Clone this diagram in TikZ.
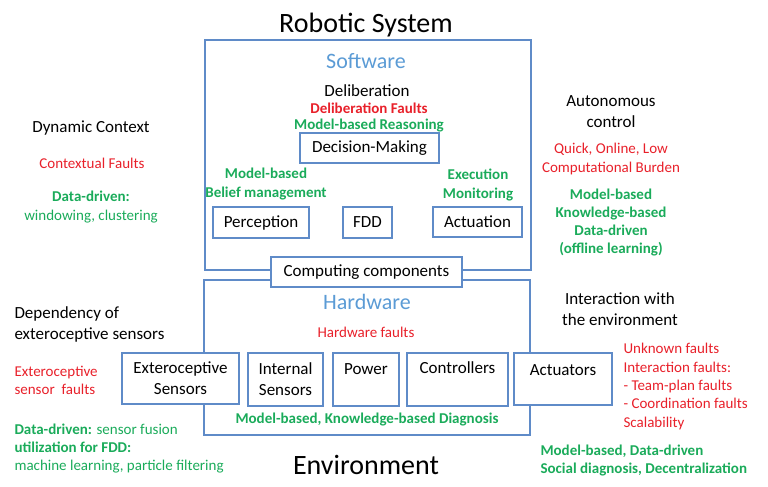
\documentclass[tikz,border=0pt]{standalone}
\usepackage{fontspec}
\setmainfont{Carlito}
\definecolor{loido}{HTML}{E8202A}
\definecolor{xanh}{HTML}{1AAB5A}
\definecolor{vien}{HTML}{5F8BC8}
\definecolor{tieudexanh}{HTML}{5B9BD5}
\begin{document}
\begin{tikzpicture}[x=1pt,y=-1pt,
	khung/.style={draw=vien,line width=1.2pt,fill=white,inner sep=0pt},
	chu/.style={font=\fontsize{17}{21}\selectfont,align=center},
	loi/.style={text=loido,font=\fontsize{15}{18.3}\selectfont,align=center},
	ppx/.style={text=xanh,font=\fontsize{15}{18.3}\selectfont,align=center}]
	\useasboundingbox (0,0) rectangle (768,487);
	%Tieu de
	\node[font=\fontsize{28}{30}\selectfont] (robot) at (366,25) {Robotic System};
	\node[font=\fontsize{28}{30}\selectfont] (moitruong) at (366,465) {Environment};
	%Khung lon
	\node[khung,fill=none,minimum width=326,minimum height=230] (phanmem) at (368,155) {};
	\node[khung,fill=none,minimum width=326,minimum height=155] (phancung) at (367,357.5) {};
	%Software
	\node[text=tieudexanh,font=\fontsize{22}{24}\selectfont] (sw) at (366,61) {Software};
	\node[chu] (delib) at (367,91) {Deliberation};
	\node[loi,font=\bfseries\fontsize{15}{18}\selectfont] (delibloi) at (369,108) {Deliberation Faults};
	\node[ppx,font=\bfseries\fontsize{15}{18}\selectfont] (reason) at (369,126) {Model-based Reasoning};
	\node[khung,chu,minimum width=139,minimum height=30] (dm) at (369.5,148) {Decision-Making};
	\node[ppx,font=\bfseries\fontsize{15}{18.3}\selectfont] (belief) at (266,184) {Model-based\\Belief management};
	\node[ppx,font=\bfseries\fontsize{15}{18.3}\selectfont] (exec) at (478,185) {Execution\\Monitoring};
	\node[khung,chu,minimum width=96,minimum height=31] (per) at (261,222.5) {Perception};
	\node[khung,chu,minimum width=49,minimum height=31] (fdd) at (367.5,222.5) {FDD};
	\node[khung,chu,minimum width=89,minimum height=30] (act) at (477.5,222) {Actuation};
	%Computing
	\node[khung,chu,minimum width=191,minimum height=30] (comp) at (366.5,272) {Computing components};
	%Hardware
	\node[text=tieudexanh,font=\fontsize{22}{24}\selectfont] (hw) at (367,302) {Hardware};
	\node[loi] (hwloi) at (366,332) {Hardware faults};
	\node[khung,chu,minimum width=117,minimum height=51] (ext) at (180.5,378.5) {Exteroceptive\\Sensors};
	\node[khung,chu,minimum width=75,minimum height=53] (int) at (285.5,379.5) {Internal\\Sensors};
	\node[khung,minimum width=66,minimum height=53] (pow) at (366,379.5) {};
	\node[chu] (powt) at (366,369) {Power};
	\node[khung,minimum width=101,minimum height=53] (ctrl) at (457.5,379.5) {};
	\node[chu] (ctrlt) at (457.5,368) {Controllers};
	\node[khung,minimum width=98,minimum height=52] (actu) at (563,379) {};
	\node[chu] (actut) at (563,370) {Actuators};
	\node[ppx,font=\bfseries\fontsize{15}{18}\selectfont] (diag) at (367,420) {Model-based, Knowledge-based Diagnosis};
	%Ben trai
	\node[chu] (dyn) at (91,128) {Dynamic Context};
	\node[loi] (ctxloi) at (92,163) {Contextual Faults};
	\node[ppx] (win) at (91,207) {\textbf{Data-driven:}\\windowing, clustering};
	\node[chu,align=left,anchor=west] (dep) at (11,324.5) {Dependency of\\exteroceptive sensors};
	\node[loi,align=left,anchor=west] (extloi) at (11,380.5) {Exteroceptive\\sensor~~faults};
	\node[ppx,align=left,anchor=west] (fusion) at (11,448.5) {\textbf{Data-driven:} sensor fusion\\\textbf{utilization for FDD:}\\machine learning, particle filtering};
	%Ben phai
	\node[chu] (auto) at (611,111.5) {Autonomous\\control};
	\node[loi] (quick) at (611,159) {Quick, Online, Low\\Computational Burden};
	\node[ppx,font=\bfseries\fontsize{15}{18.3}\selectfont] (offline) at (611,222.5) {Model-based\\Knowledge-based\\Data-driven\\(offline learning)};
	\node[chu] (inter) at (620,309.5) {Interaction with\\the environment};
	\node[loi,align=left,anchor=west] (unk) at (620,386.5) {Unknown faults\\Interaction faults:\\- Team-plan faults\\- Coordination faults\\Scalability};
	\node[ppx,font=\bfseries\fontsize{15}{18}\selectfont,align=left,anchor=west] (social) at (537,460.5) {Model-based, Data-driven\\Social diagnosis, Decentralization};
\end{tikzpicture}
\end{document}
